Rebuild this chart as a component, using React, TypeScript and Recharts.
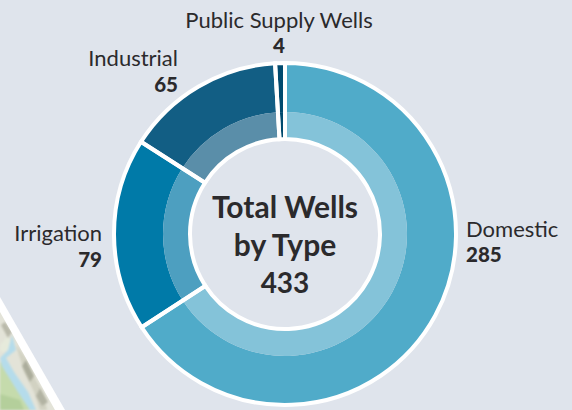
import React from 'react'
import { PieChart, Pie, Cell } from 'recharts'

const categories = ['Domestic', 'Irrigation', 'Industrial', 'Public Supply Wells']
const wells = [285, 79, 65, 4]
const total = 433
const titleLines = ['Total Wells', 'by Type']

const outerColors = ['#50abc9', '#007aa8', '#125e84', '#004a6e']
const innerColors = ['#84c3d9', '#4d9fc0', '#5a8ea9', '#004a6e']

// where each name / value pair sits: [x, name baseline, value baseline, anchor]
const labelSpots: Record<string, [number, number, number, string]> = {
  Domestic: [466, 237, 262, 'start'],
  Irrigation: [102, 241, 267, 'end'],
  Industrial: [178, 66, 92, 'end'],
  'Public Supply Wells': [279, 28, 53, 'middle'],
}

const data = categories.map((name, i) => ({ name, value: wells[i] }))
const font = 'Lato, sans-serif'
const ink = '#2b2a2c'

function SliceLabel(props: any) {
  const spot = labelSpots[props.name]
  if (!spot) return null
  const [x, y1, y2, anchor] = spot
  return (
    <g fontFamily={font} fill={ink} textAnchor={anchor}>
      <text x={x} y={y1} fontSize={22}>{props.name}</text>
      <text x={x} y={y2} fontSize={20.5} fontWeight={900}>{props.value}</text>
    </g>
  )
}

function MapCorner() {
  return (
    <svg width={572} height={410} style={{ position: 'absolute', left: 0, top: 0 }}>
      <defs>
        <filter id="soft"><feGaussianBlur stdDeviation="0.8" /></filter>
        <clipPath id="corner"><polygon points="0,312 55,410 0,410" /></clipPath>
      </defs>
      <polygon points="0,297 65,410 0,410" fill="#ffffff" />
      <g clipPath="url(#corner)">
        <rect x={0} y={300} width={70} height={110} fill="#e3e3d8" />
        <g filter="url(#soft)">
          <polygon points="0,362 14,372 26,398 30,410 0,410" fill="#c5dbac" />
          <polygon points="8,336 14,350 2,352 0,350 0,345" fill="#e6eadb" />
          <polygon points="12,335 16,350 6,358 14,372 28,392 36,410 30,410 18,392 2,366 0,358 8,350" fill="#b5dceb" />
          <polygon points="16,345 26,358 36,380 44,394 47,410 40,410 34,392 24,372" fill="#d2d2c2" />
          <polygon points="5,322 12,332 8,338 1,325" fill="#b9b9aa" />
          <polygon points="26,360 34,376 30,382 22,366" fill="#acad9c" />
          <polygon points="40,388 48,402 42,406 36,396" fill="#b2b3a3" />
          <polygon points="0,394 20,400 24,410 0,410" fill="#b4cf9b" />
        </g>
      </g>
    </svg>
  )
}

export default function App() {
  return (
    <div style={{ position: 'absolute', left: 0, top: 0, width: 572, height: 410, background: '#dfe4ec', overflow: 'hidden' }}>
      <MapCorner />
      <div style={{ position: 'absolute', left: 0, top: 0 }}>
        <PieChart width={572} height={410} margin={{ top: 0, right: 0, bottom: 0, left: 0 }}>
          <Pie data={data} dataKey="value" cx={285} cy={234} innerRadius={122} outerRadius={170}
            startAngle={90} endAngle={-270} stroke="none" isAnimationActive={false}>
            {data.map((d, i) => <Cell key={d.name} fill={outerColors[i]} />)}
          </Pie>
          <Pie data={data} dataKey="value" cx={285} cy={234} innerRadius={96} outerRadius={122}
            startAngle={90} endAngle={-270} stroke="none" isAnimationActive={false}>
            {data.map((d, i) => <Cell key={d.name} fill={innerColors[i]} />)}
          </Pie>
          <Pie data={data} dataKey="value" cx={285} cy={234} innerRadius={95} outerRadius={171}
            startAngle={90} endAngle={-270} fill="none" stroke="#ffffff" strokeWidth={4}
            label={SliceLabel} labelLine={false} isAnimationActive={false}>
            {data.map((d) => <Cell key={d.name} fill="none" stroke="#ffffff" strokeWidth={4} />)}
          </Pie>
          <text x={285} y={218} textAnchor="middle" fontFamily={font} fontSize={30} fontWeight={700} fill={ink}>{titleLines[0]}</text>
          <text x={285} y={256} textAnchor="middle" fontFamily={font} fontSize={30} fontWeight={700} fill={ink}>{titleLines[1]}</text>
          <text x={285} y={293} textAnchor="middle" fontFamily={font} fontSize={28} fontWeight={700} fill={ink}>{total}</text>
        </PieChart>
      </div>
    </div>
  )
}
